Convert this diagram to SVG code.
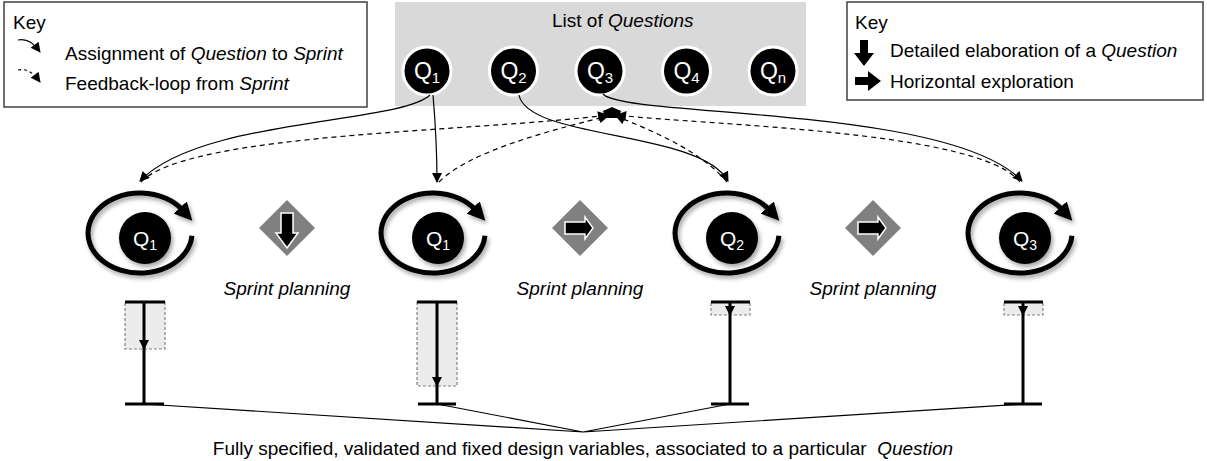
<svg xmlns="http://www.w3.org/2000/svg" width="1207" height="461" viewBox="0 0 1207 461">
<style>
text{font-family:"Liberation Sans",Arial,sans-serif;fill:#000}
.k{font-size:19px}
.it{font-style:italic}
.qw{fill:#fff;font-size:21px}
.ql{fill:#fff;font-size:23px}
.box{fill:#fff;stroke:#404040;stroke-width:1.5}
.con{fill:none;stroke:#000;stroke-width:1.2}
.dash{stroke-dasharray:5,4}
.ring{fill:none;stroke:#000;stroke-width:5}
.bar{stroke:#000;stroke-width:3;fill:none}
.zone{fill:#ececec;stroke:#808080;stroke-width:1.2;stroke-dasharray:3,2}
.dia{fill:#808080}
.arr{fill:#000;stroke:#fff;stroke-width:1.5}
</style>
<defs>
<marker id="ah" viewBox="0 0 10 10" refX="9" refY="5" markerWidth="11" markerHeight="10" markerUnits="userSpaceOnUse" orient="auto"><path d="M0,0 L10,5 L0,10 z" fill="#000"/></marker>
<marker id="rh" viewBox="0 0 10 10" refX="2" refY="5" markerWidth="18" markerHeight="18" markerUnits="userSpaceOnUse" orient="auto"><path d="M0,0 L10,5 L0,10 z" fill="#000"/></marker>
<filter id="sh" x="-20%" y="-20%" width="150%" height="150%"><feDropShadow dx="2" dy="3" stdDeviation="2" flood-color="#000" flood-opacity="0.35"/></filter>
</defs>

<g id="key-left">
<rect class="box" x="4" y="2" width="363" height="105"/>
<text class="k" x="13" y="29">Key</text>
<path class="con" d="M18 40 C28 38,34 44,40 52" marker-end="url(#ah)"/>
<text class="k" x="65" y="60">Assignment of <tspan class="it">Question</tspan> to <tspan class="it">Sprint</tspan></text>
<path class="con" d="M18 70 C28 68,34 74,40 82" stroke-dasharray="3,3" marker-end="url(#ah)"/>
<text class="k" x="65" y="90">Feedback-loop from <tspan class="it">Sprint</tspan></text>
</g>

<g id="question-list">
<rect x="395" y="2" width="411" height="104" fill="#d9d9d9"/>
<text class="k" x="552" y="27" font-size="18">List of <tspan class="it">Questions</tspan></text>
<g stroke="#fff" stroke-width="3" fill="#000">
<circle cx="427" cy="71" r="24"/>
<circle cx="513.5" cy="71" r="24"/>
<circle cx="600" cy="71" r="24"/>
<circle cx="686.5" cy="71" r="24"/>
<circle cx="773" cy="71" r="24"/>
</g>
<text class="ql" x="427" y="79" text-anchor="middle">Q<tspan font-size="15" dy="4">1</tspan></text>
<text class="ql" x="513.5" y="79" text-anchor="middle">Q<tspan font-size="15" dy="4">2</tspan></text>
<text class="ql" x="600" y="79" text-anchor="middle">Q<tspan font-size="15" dy="4">3</tspan></text>
<text class="ql" x="686.5" y="79" text-anchor="middle">Q<tspan font-size="15" dy="4">4</tspan></text>
<text class="ql" x="773" y="79" text-anchor="middle">Q<tspan font-size="15" dy="4">n</tspan></text>
</g>

<g id="key-right">
<rect class="box" x="847" y="2" width="356" height="98"/>
<text class="k" x="855" y="29">Key</text>
<polygon points="860,40 868,40 868,53 874,53 864,66 854,53 860,53" fill="#000"/>
<text class="k" x="890" y="57">Detailed elaboration of a <tspan class="it">Question</tspan></text>
<polygon points="855,77 868,77 868,71 881,81 868,91 868,85 855,85" fill="#000"/>
<text class="k" x="890" y="88">Horizontal exploration</text>
</g>

<g id="connectors">
<path class="con" d="M430 95 C400 124,200 118,140 181" marker-end="url(#ah)"/>
<path class="con" d="M433 95 C436 130,437 150,437 182" marker-end="url(#ah)"/>
<path class="con" d="M519 95 C528 140,700 130,728 181" marker-end="url(#ah)"/>
<path class="con" d="M603 94 C625 118,950 105,1022 181" marker-end="url(#ah)"/>
<path class="con dash" d="M141 182 C190 132,480 132,607 115" marker-end="url(#ah)"/>
<path class="con dash" d="M439 182 C470 150,560 128,608 116" marker-end="url(#ah)"/>
<path class="con dash" d="M727 182 C700 150,650 130,616 116" marker-end="url(#ah)"/>
<path class="con dash" d="M1020 182 C980 130,700 125,617 115" marker-end="url(#ah)"/>
<polygon points="612,107 621,111 619,118 605,118 603,111" fill="#000"/>
<path class="con" d="M144 404 L583 432 M437 404 L583 432 M730 404 L583 432 M1023 404 L583 432"/>
</g>

<g id="sprint-1">
<path class="ring" filter="url(#sh)" d="M191.9 235.8 A52 40 0 1 1 182.6 210.1" marker-end="url(#rh)"/>
<circle cx="145" cy="238" r="26" fill="#000" filter="url(#sh)"/>
<text class="qw" x="145" y="246" text-anchor="middle">Q<tspan font-size="14" dy="4">1</tspan></text>
</g>
<g id="sprint-2">
<path class="ring" filter="url(#sh)" d="M484.9 235.8 A52 40 0 1 1 475.6 210.1" marker-end="url(#rh)"/>
<circle cx="438" cy="238" r="26" fill="#000" filter="url(#sh)"/>
<text class="qw" x="438" y="246" text-anchor="middle">Q<tspan font-size="14" dy="4">1</tspan></text>
</g>
<g id="sprint-3">
<path class="ring" filter="url(#sh)" d="M778.9 235.8 A52 40 0 1 1 769.6 210.1" marker-end="url(#rh)"/>
<circle cx="732" cy="238" r="26" fill="#000" filter="url(#sh)"/>
<text class="qw" x="732" y="246" text-anchor="middle">Q<tspan font-size="14" dy="4">2</tspan></text>
</g>
<g id="sprint-4">
<path class="ring" filter="url(#sh)" d="M1071.9 235.8 A52 40 0 1 1 1062.6 210.1" marker-end="url(#rh)"/>
<circle cx="1025" cy="238" r="26" fill="#000" filter="url(#sh)"/>
<text class="qw" x="1025" y="246" text-anchor="middle">Q<tspan font-size="14" dy="4">3</tspan></text>
</g>

<g id="planning-1">
<polygon class="dia" points="287,200 315,228 287,256 259,228"/>
<polygon class="arr" points="281,213 293,213 293,233 298,233 287,248 276,233 281,233"/>
<text class="k it" x="287" y="295" text-anchor="middle" font-size="18.5">Sprint planning</text>
</g>
<g id="planning-2">
<polygon class="dia" points="580,200 608,228 580,256 552,228"/>
<polygon class="arr" points="565,222 565,234 585,234 585,239 593,228 585,217 585,222"/>
<text class="k it" x="580" y="295" text-anchor="middle" font-size="18.5">Sprint planning</text>
</g>
<g id="planning-3">
<polygon class="dia" points="873,200 901,228 873,256 845,228"/>
<polygon class="arr" points="858,222 858,234 878,234 878,239 886,228 878,217 878,222"/>
<text class="k it" x="873" y="295" text-anchor="middle" font-size="18.5">Sprint planning</text>
</g>

<g id="result-1">
<rect class="zone" x="125" y="302" width="40" height="47"/>
<path class="bar" d="M125 302 H165 M144 302 V404 M125 404 H164"/>
<path d="M144 302 V349" stroke="#000" stroke-width="1.5" marker-end="url(#ah)"/>
</g>
<g id="result-2">
<rect class="zone" x="417" y="302" width="40" height="84"/>
<path class="bar" d="M417 302 H457 M437 302 V404 M418 404 H456"/>
<path d="M437 302 V386" stroke="#000" stroke-width="1.5" marker-end="url(#ah)"/>
</g>
<g id="result-3">
<rect class="zone" x="711" y="302" width="39" height="13"/>
<path class="bar" d="M711 302 H750 M730 302 V404 M711 404 H749"/>
<path d="M730 302 V315" stroke="#000" stroke-width="1.5" marker-end="url(#ah)"/>
</g>
<g id="result-4">
<rect class="zone" x="1004" y="302" width="39" height="13"/>
<path class="bar" d="M1004 302 H1043 M1023 302 V404 M1004 404 H1042"/>
<path d="M1023 302 V315" stroke="#000" stroke-width="1.5" marker-end="url(#ah)"/>
</g>

<text class="k" x="583" y="455" text-anchor="middle" font-size="18" xml:space="preserve">Fully specified, validated and fixed design variables, associated to a particular  <tspan class="it">Question</tspan></text>
</svg>
